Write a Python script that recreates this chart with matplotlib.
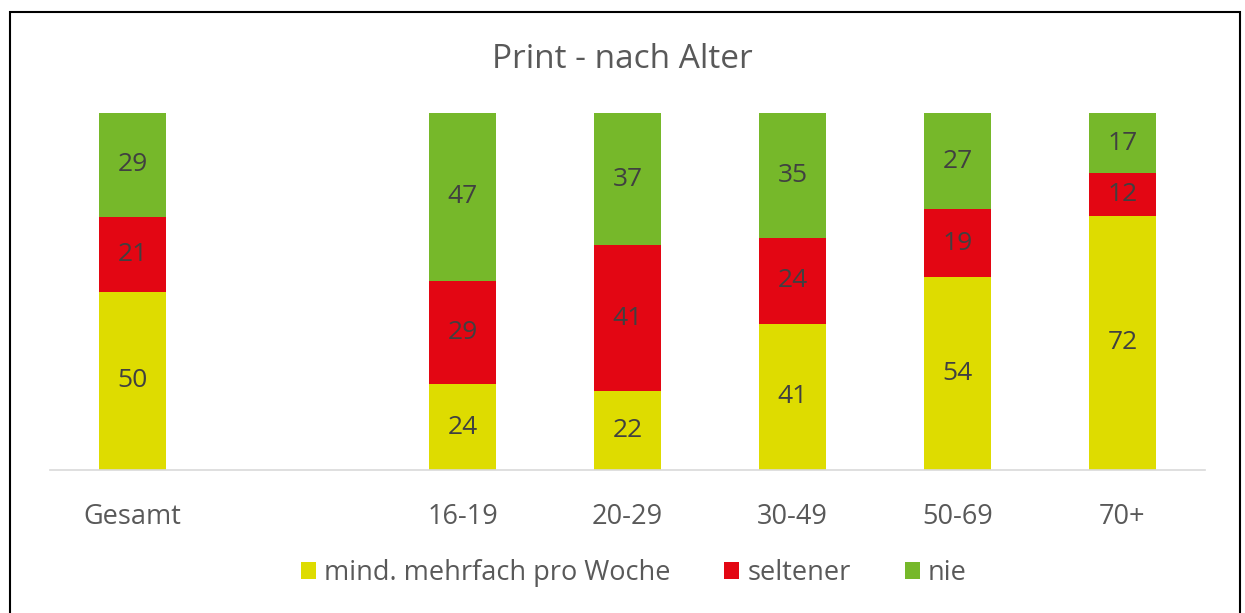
import matplotlib
matplotlib.use('Agg')
import matplotlib.pyplot as plt
import numpy as np

plt.rcParams['font.family'] = ['Open Sans', 'DejaVu Sans']

# Data
categories = ['Gesamt', '', '16-19', '20-29', '30-49', '50-69', '70+']
oft = [50, 0, 24, 22, 41, 54, 72]
seltener = [21, 0, 29, 41, 24, 19, 12]
nie = [29, 0, 47, 37, 35, 27, 17]
series_names = ['mind. mehrfach pro Woche', 'seltener', 'nie']
colors = ['#DEDC00', '#E30613', '#76B82A']

fig = plt.figure(figsize=(12.45, 6.13), dpi=100)
ax = fig.add_axes([50 / 1245, 1 - 470 / 613, 1155 / 1245, 357 / 613])

x = np.arange(len(categories))
data = np.array([oft, seltener, nie], dtype=float)
totals = data.sum(axis=0)
totals[totals == 0] = 1
shares = data / totals

bottom = np.zeros(len(categories))
for i in range(3):
    bars = ax.bar(x, shares[i], 0.41, bottom=bottom, color=colors[i], label=series_names[i])
    for j, b in enumerate(bars):
        if data[i, j] > 0:
            ax.text(b.get_x() + b.get_width() / 2, bottom[j] + shares[i, j] / 2,
                    str(int(data[i, j])), ha='center', va='center',
                    fontsize=19, color='#404040')
    bottom += shares[i]

ax.set_xlim(-0.5, 6.5)
ax.set_ylim(0, 1)
ax.set_xticks(x)
ax.set_xticklabels(categories, fontsize=19.5, color='#595959')
ax.tick_params(axis='x', length=0, pad=24)
ax.set_yticks([])
for s in ['top', 'right', 'left']:
    ax.spines[s].set_visible(False)
ax.spines['bottom'].set_color('#D9D9D9')
ax.spines['bottom'].set_linewidth(1.2)

fig.text(0.5, 1 - 60 / 613, 'Print - nach Alter', ha='center', va='center',
         fontsize=24, color='#595959')

leg = fig.legend(loc='center', bbox_to_anchor=(0.509, 1 - 573 / 613), ncol=3,
                 frameon=False, fontsize=19.5, handlelength=0.55, handleheight=0.55,
                 handletextpad=0.3, columnspacing=2.0)
for t in leg.get_texts():
    t.set_color('#595959')

# frame around the chart
fig.patches.append(plt.Rectangle((10 / 1245, -0.01), 1230 / 1245, 1 - 12 / 613 + 0.01,
                                 transform=fig.transFigure, fill=False,
                                 edgecolor='black', linewidth=1.5))

fig.savefig('out.png', dpi=100)
